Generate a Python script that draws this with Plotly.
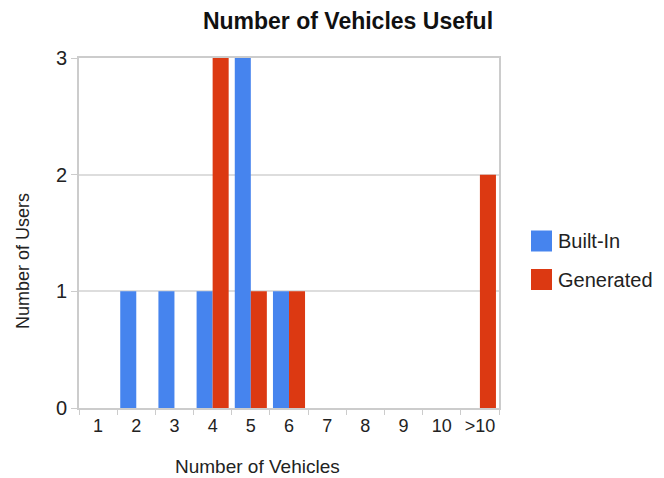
import plotly.graph_objects as go

categories = ["1", "2", "3", "4", "5", "6", "7", "8", "9", "10", ">10"]
built_in = [0, 1, 1, 1, 3, 1, 0, 0, 0, 0, 0]
generated = [0, 0, 0, 3, 1, 1, 0, 0, 0, 0, 2]
series_names = ["Built-In", "Generated"]
series_colors = ["#4684ee", "#dc3912"]

FONT = "Liberation Sans, Arial, sans-serif"

# plot area in pixels
L, R, T, B = 79, 499, 58, 408
W, H = 664, 478


def px_x(x):
    return (x - L) / (R - L)


def px_y(y):
    return (B - y) / (B - T)


fig = go.Figure()
for name, vals, col in zip(series_names, [built_in, generated], series_colors):
    fig.add_trace(go.Bar(x=categories, y=vals, name=name, marker_color=col,
                         marker_line_width=0, showlegend=False))

# legend drawn as square swatches with labels to the right of the plot
for i, (name, col) in enumerate(zip(series_names, series_colors)):
    yc = 241 + i * 38.5
    fig.add_shape(type="rect", xref="paper", yref="paper",
                  x0=px_x(531), x1=px_x(552),
                  y0=px_y(yc + 10.5), y1=px_y(yc - 10.5),
                  fillcolor=col, line=dict(width=0))
    fig.add_annotation(text=name, xref="paper", yref="paper",
                       x=px_x(556), y=px_y(yc),
                       xanchor="left", yanchor="middle", showarrow=False,
                       font=dict(family=FONT, size=20, color="#222222"))

# axis titles
fig.add_annotation(text="Number of Vehicles", xref="paper", yref="paper",
                   x=px_x(257), y=px_y(466), xanchor="center", yanchor="middle",
                   showarrow=False, font=dict(family=FONT, size=19, color="#222222"))
fig.add_annotation(text="Number of Users", xref="paper", yref="paper",
                   x=px_x(23), y=px_y(261), xanchor="center", yanchor="middle",
                   textangle=-90, showarrow=False,
                   font=dict(family=FONT, size=18, color="#222222"))

fig.update_layout(
    width=W, height=H,
    margin=dict(l=L, r=W - R, t=T, b=H - B, autoexpand=False),
    paper_bgcolor="white", plot_bgcolor="white",
    barmode="group", bargap=0.16, bargroupgap=0,
    title=dict(text="Number of Vehicles Useful", x=348 / W, xanchor="center",
               y=1 - 21 / H, yanchor="middle",
               font=dict(family=FONT, size=23, color="#111111", weight="bold")),
    font=dict(family=FONT, color="#222222"),
)
fig.update_xaxes(
    type="category", tickson="boundaries", ticks="outside", ticklen=5,
    tickcolor="#cccccc", tickwidth=1, showline=True, mirror=True,
    linecolor="#cccccc", linewidth=2, showgrid=False, tickangle=0,
    tickfont=dict(size=18), automargin=False,
)
fig.update_yaxes(
    range=[0, 3], dtick=1, showline=True, mirror=True, linecolor="#cccccc",
    linewidth=2, gridcolor="#dddddd", gridwidth=2, zeroline=False,
    ticks="outside", ticklen=6, tickcolor="#cccccc", tickfont=dict(size=20),
    automargin=False,
)

fig.write_html("out.html")
